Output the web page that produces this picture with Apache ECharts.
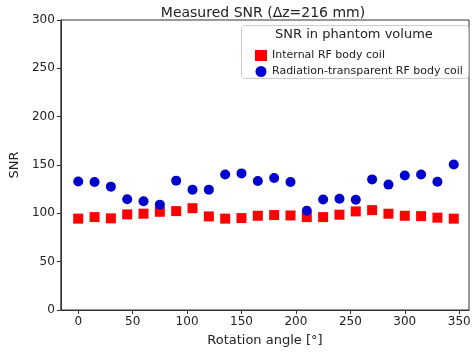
<!DOCTYPE html>
<html>
<head>
<meta charset="utf-8">
<script src="https://cdn.jsdelivr.net/npm/echarts@6/dist/echarts.min.js"></script>
<style>html,body{margin:0;padding:0;background:#fff;}#c{width:474px;height:352px;}</style>
</head>
<body>
<div id="c"></div>
<script>
var angles = [0,15,30,45,60,75,90,105,120,135,150,165,180,195,210,225,240,255,270,285,300,315,330,345];
var internalSNR = [94.5,96.1,94.8,98.9,99.6,101.6,102.3,105.3,96.8,94.5,95.1,97.5,98.2,97.8,96.1,96.1,98.6,102,103.3,99.6,97.5,97.1,95.5,94.5];
var transparentSNR = [133,132.4,127.6,114.6,112.5,109,133.8,124.5,124.5,140.2,141.3,133.5,136.5,132.4,102.7,114.3,115,114,135.1,129.7,139.2,140.2,132.7,150.5];
var xTicks = [0,50,100,150,200,250,300,350];
var seriesNames = ['Internal RF body coil','Radiation-transparent RF body coil'];
var font = 'DejaVu Sans';

var chart = echarts.init(document.getElementById('c'));
chart.setOption({
  animation: false,
  backgroundColor: '#fff',
  title: {
    text: 'Measured SNR (\u0394z=216 mm)',
    left: 258, top: 1, textAlign: 'center',
    textStyle: {fontFamily: font, fontSize: 14, fontWeight: 'normal', color: '#222'}
  },
  grid: {left: 47, right: 5, top: 20, bottom: 40, containLabel: false,
         show: true, borderColor: '#333', borderWidth: 1, backgroundColor: 'transparent'},
  xAxis: {
    type: 'value', min: -16, max: 359,
    name: 'Rotation angle [\u00b0]', nameLocation: 'middle', nameGap: 24,
    nameTextStyle: {fontFamily: font, fontSize: 13, color: '#222'},
    axisLine: {show: true, onZero: false, lineStyle: {color: '#333', width: 1}},
    axisTick: {show: true, customValues: xTicks, length: 4, lineStyle: {color: '#333'}},
    axisLabel: {customValues: xTicks, fontFamily: font, fontSize: 12, color: '#222', margin: 6},
    splitLine: {show: false}
  },
  yAxis: {
    type: 'value', min: 0, max: 300, interval: 50,
    name: 'SNR', nameLocation: 'middle', nameGap: 34, nameRotate: 90,
    nameTextStyle: {fontFamily: font, fontSize: 13, color: '#222'},
    axisLine: {show: true, onZero: false, lineStyle: {color: '#333', width: 1}},
    axisTick: {show: true, length: 4, lineStyle: {color: '#333'}},
    axisLabel: {fontFamily: font, fontSize: 12, color: '#222', margin: 6},
    splitLine: {show: false}
  },
  graphic: [
    {type: 'rect', left: 241, top: 25, z: 10,
     shape: {width: 227, height: 53, r: 3},
     style: {fill: 'rgba(255,255,255,0.9)', stroke: '#ccc', lineWidth: 1}},
    {type: 'text', left: 275, top: 28, z: 11,
     style: {text: 'SNR in phantom volume', fontFamily: font, fontSize: 13, fill: '#222'}}
  ],
  legend: {
    orient: 'vertical', left: 250, top: 45, z: 12,
    itemGap: 5, itemWidth: 12, itemHeight: 11,
    textStyle: {fontFamily: font, fontSize: 11, color: '#222'},
    data: [
      {name: seriesNames[0], icon: 'rect'},
      {name: seriesNames[1], icon: 'circle'}
    ]
  },
  series: [
    {name: seriesNames[0], type: 'scatter', symbol: 'rect', symbolSize: 10,
     itemStyle: {color: '#ff0000', opacity: 1},
     data: angles.map(function(a, i){ return [a, internalSNR[i]]; })},
    {name: seriesNames[1], type: 'scatter', symbol: 'circle', symbolSize: 10,
     itemStyle: {color: '#0000cd', opacity: 1},
     data: angles.map(function(a, i){ return [a, transparentSNR[i]]; })}
  ]
});
</script>
</body>
</html>
